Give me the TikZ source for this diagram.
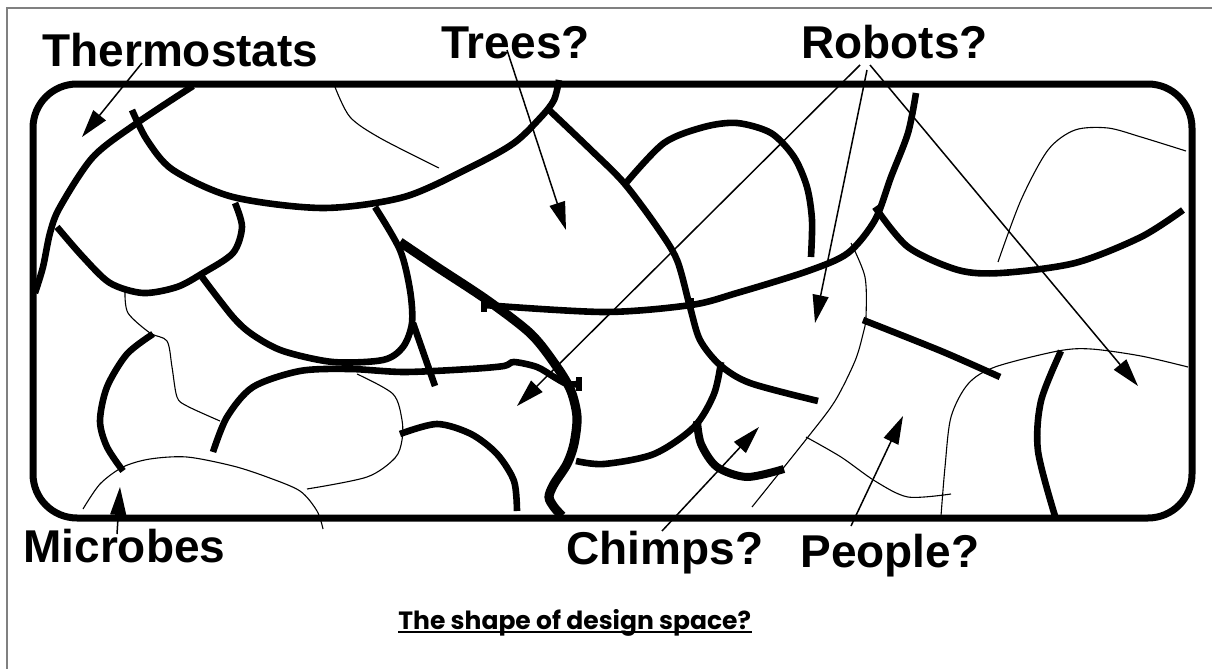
\documentclass[tikz,border=0pt]{standalone}
\usepackage{fontspec}
\setmainfont{Liberation Sans}
\newfontfamily\capfont{Poppins}
\usetikzlibrary{arrows.meta}

\begin{document}
\begin{tikzpicture}[x=0.5pt, y=-0.5pt, >={Triangle[length=14pt,width=8pt]},
  frame/.style={line width=3.5pt, rounded corners=22pt},
  bound/.style={line width=3.3pt},
  heavy/.style={line width=4.6pt},
  faint/.style={line width=0.55pt},
  pointer/.style={->, line width=0.75pt},
  kind/.style={font=\fontsize{23}{23}\selectfont\bfseries, inner sep=0pt, anchor=base west}]
\useasboundingbox (0,0) rectangle (1212,669);
\draw[gray, line width=1pt] (1212,8)--(7,8)--(7,669);

% the space itself
\draw[frame] (33,84) rectangle (1192,518);

% thick boundaries
\draw[bound] plot[smooth] coordinates {(193,86) (137,123) (93,157) (60,207) (50,233) (43,267) (35,293)};
\draw[bound] plot[smooth] coordinates {(132,110) (147,140) (173,170) (233,197) (323,208) (404,197) (471,167) (514,143) (541,117) (554,100) (559,80)};
\draw[bound] plot[smooth] coordinates {(57,227) (83,257) (110,283) (143,293) (177,287) (203,273) (233,253) (242,227) (235,203)};
\draw[bound] plot[smooth] coordinates {(202,277) (233,317) (253,335) (283,351) (333,362) (383,360) (403,347) (412,323) (410,290) (400,250) (375,207)};
\draw[bound] (413,323)--(435,386);
\draw[heavy] plot[smooth] coordinates {(400,242) (437,267) (487,300) (531,334) (557,367) (571,391) (577,417) (574,444) (567,464) (554,484) (549,497) (554,507) (562,516)};
\draw[bound] plot[smooth] coordinates {(484,305) (604,312) (691,305) (737,293) (808,271) (848,253) (875,220) (891,177) (908,133) (916,93)};
\draw[bound] plot[smooth] coordinates {(547,108) (591,150) (624,183) (657,227) (677,260) (690,307) (700,340) (720,365) (750,383) (818,401)};
\draw[bound] plot[smooth] coordinates {(576,461) (604,464) (654,454) (694,427) (714,394) (721,362)};
\draw[bound] plot[smooth] coordinates {(626,183) (664,143) (704,127) (737,123) (771,133) (794,157) (807,187) (812,220) (811,257)};
\draw[bound] plot[smooth] coordinates {(875,207) (908,247) (958,270) (1001,273) (1075,263) (1141,237) (1183,210)};
\draw[bound] plot[smooth] coordinates {(863,320) (941,351) (1000,377)};
\draw[bound] plot[smooth] coordinates {(1061,351) (1041,401) (1038,451) (1055,516)};
\draw[bound] plot[smooth] coordinates {(153,334) (127,354) (107,387) (100,421) (107,447) (123,471)};
\draw[bound] plot[smooth] coordinates {(213,452) (227,417) (253,387) (300,371) (350,369) (404,372) (470,369) (504,366) (514,362) (537,367) (554,377) (567,384) (579,384)};
\draw[bound] plot[smooth] coordinates {(400,434) (437,424) (471,434) (497,454) (514,481) (517,511)};
\draw[line width=4pt] plot[smooth] coordinates {(697,421) (701,444) (717,467) (747,477) (784,469)};
% end ticks
\draw[line width=3pt] (484,298)--(484,312);
\draw[line width=3pt] (691,298)--(691,312);
\draw[line width=3pt] (579,377)--(579,391);

% thin boundaries
\draw[faint] plot[smooth] coordinates {(335,87) (350,117) (380,138) (439,168)};
\draw[faint] plot[smooth] coordinates {(125,292) (128,313) (150,333) (167,341) (172,367) (177,397) (187,406) (220,421)};
\draw[faint] plot[smooth] coordinates {(83,509) (100,484) (123,467) (150,459) (187,457) (233,466) (267,477) (300,491) (317,511) (323,529)};
\draw[faint] plot[smooth] coordinates {(357,374) (393,394) (402,420) (402,440) (395,458) (367,477) (307,489)};
\draw[faint] plot[smooth] coordinates {(851,243) (865,277) (866,317) (863,334) (855,361) (835,401) (808,437) (752,507)};
\draw[faint] plot[smooth] coordinates {(806,437) (841,457) (875,481) (908,497) (951,494)};
\draw[faint] plot[smooth] coordinates {(998,262) (1021,200) (1048,150) (1075,130) (1108,128) (1141,137) (1186,151)};
\draw[faint] plot[smooth] coordinates {(941,516) (945,467) (951,417) (968,384) (995,367) (1058,351) (1091,349) (1141,356) (1188,367)};

% labels
\node[kind] (thermo) at (42,67) {Thermostats};
\node[kind] (trees) at (441,58) {Trees?};
\node[kind] (robots) at (801,58) {Robots?};
\node[kind] (microbes) at (23,562) {Microbes};
\node[kind] (chimps) at (566,564) {Chimps?};
\node[kind] (people) at (800,567) {People?};
\node[inner sep=0pt, anchor=base west] (title) at (398,629)
  {\capfont\bfseries\fontsize{12.5}{13}\selectfont The shape of design space?};
\draw[line width=1.2pt] ([yshift=-1.6pt]title.base west)--([yshift=-1.6pt]title.base east);

% pointers into the space
\coordinate (thermo-a) at (142,63);  \coordinate (thermo-b) at (82,137);
\coordinate (trees-a) at (507,50);   \coordinate (trees-b) at (566,230);
\coordinate (robots-a) at (860,65);  \coordinate (robots-b) at (517,406);
\coordinate (robots-c) at (867,70);  \coordinate (robots-d) at (815,323);
\coordinate (robots-e) at (870,65);  \coordinate (robots-f) at (1138,386);
\coordinate (microbes-a) at (117,534); \coordinate (microbes-b) at (120,487);
\coordinate (chimps-a) at (662,531); \coordinate (chimps-b) at (759,427);
\coordinate (people-a) at (851,526); \coordinate (people-b) at (903,416);
\draw[pointer] (thermo-a)--(thermo-b);
\draw[pointer] (trees-a)--(trees-b);
\draw[pointer] (robots-a)--(robots-b);
\draw[pointer] (robots-c)--(robots-d);
\draw[pointer] (robots-e)--(robots-f);
\draw[pointer] (microbes-a)--(microbes-b);
\draw[pointer] (chimps-a)--(chimps-b);
\draw[pointer] (people-a)--(people-b);
\end{tikzpicture}
\end{document}
